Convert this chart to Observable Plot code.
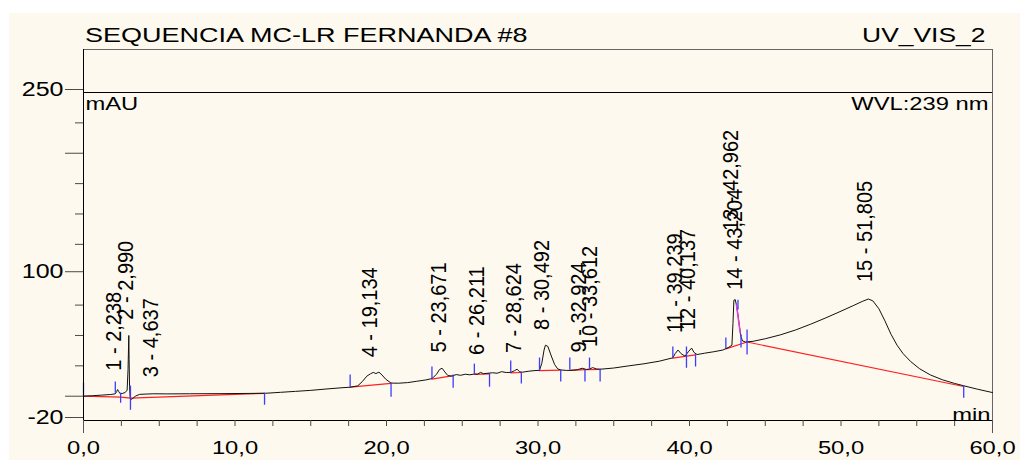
<!DOCTYPE html>
<html>
<head>
<meta charset="utf-8">
<script src="https://cdn.jsdelivr.net/npm/d3@7"></script>
<script src="https://cdn.jsdelivr.net/npm/@observablehq/plot@0.6"></script>
<style>
  html, body { margin: 0; padding: 0; background: #ffffff; }
  #panel {
    position: absolute; left: 9px; top: 13px; width: 1011px; height: 447px;
    background: #fdf9ee; font-family: "Liberation Sans", Arial, sans-serif; color: #000;
  }
  #header { position: relative; height: 33px; }
  #header span { position: absolute; top: 12px; font-size: 20px; line-height: 20px; white-space: nowrap; }
  #title { left: 76px; transform: scaleX(1.35); transform-origin: left center; }
  #channel { right: 35px; transform: scaleX(1.32); transform-origin: right center; }
</style>
</head>
<body>
<div id="panel">
  <div id="header"><span id="title"></span><span id="channel"></span></div>
  <div id="chart"></div>
</div>
<script>
// Run header
const sampleName = "SEQUENCIA MC-LR FERNANDA #8";
const channelName = "UV_VIS_2";
const unitLabel = "mAU";
const wavelengthLabel = "WVL:239 nm";
const timeUnitLabel = "min";

// Detector trace: retention time (min) and absorbance (mAU)
const traceTime = [
  0, 0.6, 1.2, 1.8, 2.1, 2.2, 2.25, 2.32, 2.4, 2.55, 2.75, 2.88, 2.94, 2.99, 3.01, 3.04, 3.08, 3.12, 3.25, 3.45,
  3.7, 4.2, 4.64, 5.5, 7.0, 9.0, 11.0, 12.0, 13.0, 14.0, 15.0, 16.0, 17.0, 17.6, 18.1, 18.4, 18.7, 18.95, 19.13, 19.3,
  19.5, 19.7, 19.95, 20.3, 20.8, 21.4, 22.0, 22.6, 23.0, 23.3, 23.5, 23.67, 23.85, 24.05, 24.3, 24.6, 24.9, 25.2, 25.5, 25.8,
  26.0, 26.21, 26.4, 26.7, 27.0, 27.3, 27.6, 27.9, 28.2, 28.45, 28.62, 28.8, 29.0, 29.4, 29.8, 30.1, 30.25, 30.4, 30.49, 30.65,
  30.85, 31.1, 31.3, 31.5, 31.9, 32.3, 32.6, 32.92, 33.2, 33.4, 33.61, 33.85, 34.1, 35.0, 36.0, 37.0, 38.0, 38.9, 39.05, 39.24,
  39.45, 39.7, 39.95, 40.14, 40.3, 40.5, 41.0, 41.6, 42.2, 42.6, 42.8, 42.87, 42.93, 43.02, 43.1, 43.2, 43.3, 43.4, 43.5, 43.7,
  44.2, 45.0, 46.0, 47.0, 48.0, 49.0, 50.0, 50.8, 51.4, 51.805, 52.1, 52.5, 52.9, 53.3, 53.7, 54.1, 54.6, 55.2, 55.9, 56.7,
  57.5, 58.1, 59.0, 60.0
];
const traceSignal = [
  0, 0.4, 0.9, 1.4, 2.0, 4.0, 5.5, 4.0, 2.3, 2.2, 3.0, 5.0, 22, 50, 30, 8, -1, -2.8, -1.8, 0.2,
  1.5, 1.8, 2.0, 1.9, 2.0, 2.1, 2.3, 2.4, 3.2, 4.0, 4.8, 5.9, 6.9, 7.4, 8.5, 12, 16.5, 18.5, 19.6, 18.6,
  19.8, 17.5, 14, 10.8, 10.7, 11.2, 12.3, 13.4, 14.5, 18, 22, 23, 20, 17, 16.5, 17.8, 17.2, 18.1, 17.6, 18.3,
  18.1, 19.6, 18.5, 18.9, 19.3, 18.9, 20.2, 19.5, 19.6, 21, 22.2, 20, 19.8, 20.6, 21.1, 21.3, 27, 38, 42, 41,
  34, 26, 22.5, 21.6, 21.2, 21.4, 21.8, 23, 22, 22.4, 23.5, 22.5, 22.2, 23.2, 25, 26.7, 28.8, 31.6, 35, 38,
  35, 33, 37, 39.6, 36, 34.3, 35.4, 36.6, 38, 40.3, 42, 60, 79, 79.5, 75, 67, 57, 49, 45.5, 44.6,
  45.2, 47.3, 50.5, 54.5, 59.3, 64.5, 70, 74.5, 78, 80, 78.5, 72, 62, 51, 42, 35, 28.5, 22.5, 17.5, 13.5,
  10.5, 8.6, 5.8, 3.0
];

// Integrated peaks: number, retention time (min), level where the peak label starts (mAU)
const peakNumber = [1, 2, 3, 4, 5, 6, 7, 8, 9, 10, 11, 12, 13, 14, 15];
const peakTime = [2.238, 2.990, 4.637, 19.134, 23.671, 26.211, 28.624, 30.492, 32.924, 33.612, 39.239, 40.137, 42.962, 43.204, 51.805];
const labelLevel = [21, 63, 15.7, 32, 36, 34, 35.5, 54.5, 36, 40.5, 52, 54.5, 136, 87.6, 94];

// Integration baselines (one polyline per segment)
const baselineSegment = [1, 1, 1, 1, 2, 2, 3, 3, 4, 4, 5, 5, 6, 6, 7, 7, 7, 8, 8, 8, 9, 9, 10, 10];
const baselineTime = [0, 2.45, 3.1, 11.95, 17.6, 20.3, 23.0, 24.4, 25.8, 26.8, 28.2, 28.9, 30.1, 31.5, 32.1, 33.1, 34.1, 38.9, 39.8, 40.4, 42.4, 43.8, 43.8, 58.1];
const baselineLevel = [0, -0.8, -1.6, 2.4, 7.4, 10.6, 14, 17, 18, 18.3, 19.2, 19.5, 21, 21.5, 21.2, 21.8, 22, 31.4, 33, 34, 39, 44.6, 44.6, 8];

// Peak start / end delimiters: time and vertical extent (mAU)
const delimTime = [0, 2.1, 2.45, 3.1, 11.95, 17.6, 20.3, 23.0, 24.4, 25.8, 26.8, 28.2, 28.9, 30.1, 31.5, 32.1, 33.1, 33.4, 34.1, 38.9, 39.8, 40.4, 42.4, 43.2, 43.4, 43.8, 58.1];
const delimLow = [0, 2.5, -5.8, -11.6, -7.4, 7.4, -0.8, 14, 6.6, 18.2, 7.4, 19, 10, 20.7, 11.6, 21.5, 11.6, 22.3, 11.6, 31.4, 23, 24, 39, 71, 39.7, 34, -1.6];
const delimHigh = [10.7, 11.6, 2.5, 8.3, 2.5, 17.4, 10.7, 24, 17.4, 26.4, 18.2, 29, 19, 31.4, 21.5, 31.4, 21.5, 31.4, 22.3, 40.5, 40.5, 34, 48, 79, 50.4, 54.5, 8.3];

// Perpendicular drop splitting peaks 13 and 14
const dropTime = [43.1, 43.35];
const dropLevel = [75, 52];

// Axis ticks
const xLabelTicks = [0, 10, 20, 30, 40, 50, 60];
const xEndTicks = [0, 60];
const xMinorTicks = [0, 2.5, 5, 7.5, 10, 12.5, 15, 17.5, 20, 22.5, 25, 27.5, 30, 32.5, 35, 37.5, 40, 42.5, 45, 47.5, 50, 52.5, 55, 57.5, 60];
const yLabelTicks = [-20, 100, 250];
const yLongTicks = [0, 200];
const yShortTicks = [25, 50, 75, 125, 150, 175, 225];

const comma = (d, digits) => d.toFixed(digits).replace(".", ",");

const trace = traceTime.map((t, i) => ({t, v: traceSignal[i]}));
const peaks = peakNumber.map((n, i) => ({t: peakTime[i], level: labelLevel[i], label: `${n} - ${comma(peakTime[i], 3)}`}));
const baselines = baselineTime.map((t, i) => ({t, v: baselineLevel[i], seg: baselineSegment[i]}));
const delims = delimTime.map((t, i) => ({t, lo: delimLow[i], hi: delimHigh[i]}));
const drop = dropTime.map((t, i) => ({t, v: dropLevel[i]}));

document.getElementById("title").textContent = sampleName;
document.getElementById("channel").textContent = channelName;

const tickStroke = "#4a4a4a";
const noText = () => "";

const chart = Plot.plot({
  width: 1003,
  height: 414,
  marginTop: 3,
  marginBottom: 40,
  marginLeft: 74,
  marginRight: 20,
  x: {domain: [0, 60], label: null},
  y: {domain: [-20, 285.4], label: null},
  style: {
    background: "transparent",
    fontFamily: "'Liberation Sans', Arial, sans-serif",
    fontSize: "20px",
    color: "#000",
    overflow: "visible"
  },
  marks: [
    Plot.frame({stroke: "#666"}),
    Plot.ruleY([250], {stroke: "#000"}),
    Plot.line(baselines, {x: "t", y: "v", z: "seg", stroke: "#ff2020", strokeWidth: 1.2}),
    Plot.line(trace, {x: "t", y: "v", stroke: "#111", strokeWidth: 1}),
    Plot.line(drop, {x: "t", y: "v", stroke: "#e040e0", strokeWidth: 1.5}),
    Plot.ruleX(delims, {x: "t", y1: "lo", y2: "hi", stroke: "#3c3cff", strokeWidth: 1.3}),
    Plot.text(peaks, {x: "t", y: "level", text: "label", rotate: -90, textAnchor: "start", fontSize: 20, fill: "#000"}),
    Plot.ruleX([0], {stroke: "#000"}),
    Plot.ruleY([-20], {stroke: "#000"}),
    Plot.axisY(yLabelTicks, {tickSize: 18, tickPadding: 2, dy: -3, stroke: tickStroke, tickFormat: d => String(d), label: null}),
    Plot.axisY(yLongTicks, {tickSize: 18, stroke: tickStroke, tickFormat: noText, label: null}),
    Plot.axisY(yShortTicks, {tickSize: 8, stroke: tickStroke, tickFormat: noText, label: null}),
    Plot.axisX(xMinorTicks, {tickSize: 6, stroke: tickStroke, tickFormat: noText, label: null}),
    Plot.axisX(xEndTicks, {tickSize: 13, stroke: "#555", tickFormat: noText, label: null}),
    Plot.axisX(xLabelTicks, {tickSize: 0, tickPadding: 20, fontSize: 19, tickFormat: d => comma(d, 1), label: null}),
    Plot.text([unitLabel], {x: 0, y: 250, text: d => d, textAnchor: "start", lineAnchor: "top", dx: 2, dy: 4, fontSize: 19}),
    Plot.text([wavelengthLabel], {x: 60, y: 250, text: d => d, textAnchor: "end", lineAnchor: "top", dx: -4, dy: 4, fontSize: 19}),
    Plot.text([timeUnitLabel], {x: 60, y: -20, text: d => d, textAnchor: "end", lineAnchor: "bottom", dx: -2, dy: 0, fontSize: 19})
  ]
});

document.getElementById("chart").appendChild(chart);

// The instrument font is drawn wide: stretch upright labels horizontally about their anchor,
// and thicken the vertical peak labels a little, nudging them just left of their peaks.
chart.querySelectorAll("text").forEach(el => {
  const tr = el.getAttribute("transform") || "";
  if (tr.includes("rotate")) {
    el.setAttribute("transform", `${tr} translate(0,-3) scale(1,1.07)`);
    return;
  }
  const b = el.getBBox();
  const anchor = getComputedStyle(el).textAnchor;
  const ax = anchor === "end" ? b.x + b.width : anchor === "middle" ? b.x + b.width / 2 : b.x;
  el.setAttribute("transform", `${tr} translate(${ax},0) scale(1.25,1) translate(${-ax},0)`);
});
</script>
</body>
</html>
